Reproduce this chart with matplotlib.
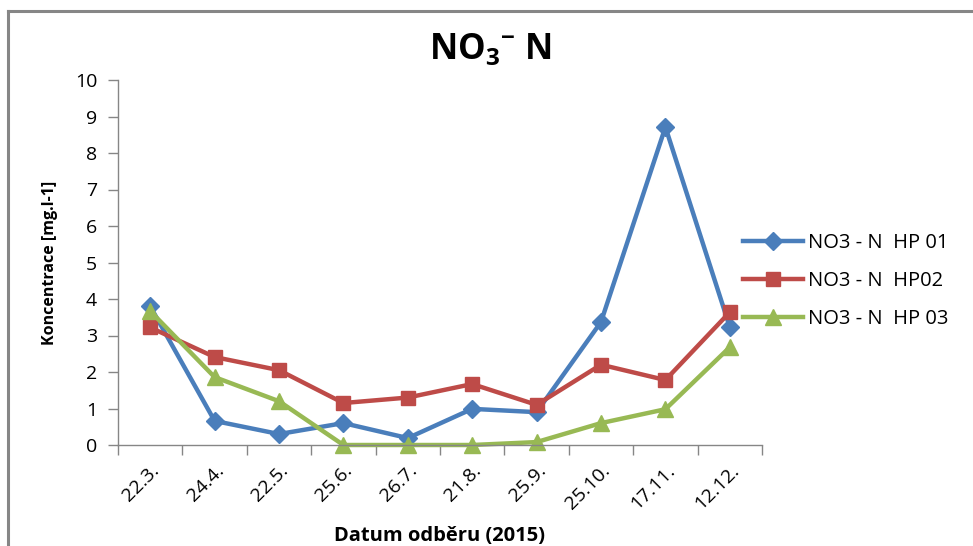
import matplotlib.pyplot as plt
from matplotlib.lines import Line2D
import numpy as np

plt.rcParams["font.family"] = ["Open Sans", "DejaVu Sans"]
plt.rcParams["mathtext.fontset"] = "custom"
plt.rcParams["mathtext.rm"] = "Open Sans"
plt.rcParams["mathtext.bf"] = "Open Sans:bold"

dates = ["22.3.", "24.4.", "22.5.", "25.6.", "26.7.", "21.8.", "25.9.", "25.10.", "17.11.", "12.12."]
hp01 = [3.80, 0.66, 0.30, 0.60, 0.19, 0.99, 0.90, 3.37, 8.71, 3.23]
hp02 = [3.22, 2.41, 2.05, 1.15, 1.30, 1.67, 1.10, 2.20, 1.78, 3.64]
hp03 = [3.67, 1.86, 1.20, 0.00, 0.00, 0.00, 0.08, 0.60, 0.98, 2.68]
series_names = ["NO3 - N  HP 01", "NO3 - N  HP02", "NO3 - N  HP 03"]

AXIS_GRAY = "#868686"
COLORS = ["#4A7EBB", "#BE4B48", "#98B954"]
MARKERS = ["D", "s", "^"]
MSIZES = [9, 10.5, 11]

fig = plt.figure(figsize=(9.73, 5.46), dpi=100)
ax = fig.add_axes([118 / 973, 101 / 546, 644 / 973, 365 / 546])

# chart frame (only top and left edges are visible)
fig.add_artist(Line2D([8 / 973, 8 / 973], [0, 1 - 11 / 546], transform=fig.transFigure,
                      color=AXIS_GRAY, lw=2.2))
fig.add_artist(Line2D([8 / 973, 1], [1 - 11 / 546, 1 - 11 / 546], transform=fig.transFigure,
                      color=AXIS_GRAY, lw=2.2))

x = np.arange(len(dates))
for vals, name, c, m, ms in zip([hp01, hp02, hp03], series_names, COLORS, MARKERS, MSIZES):
    ax.plot(x, vals, color=c, lw=3.2, marker=m, markersize=ms, markeredgecolor=c,
            label=name, clip_on=False)

ax.set_xlim(-0.5, len(dates) - 0.5)
ax.set_ylim(0, 10)
ax.set_yticks(range(0, 11))
ax.tick_params(axis="y", length=7, width=1, color=AXIS_GRAY, labelsize=14, pad=8)

# category ticks sit between the dates, labels at the centres
ax.set_xticks(np.arange(-0.5, len(dates)), minor=False)
ax.set_xticklabels([])
ax.set_xticks(x, minor=True)
ax.set_xticklabels(dates, minor=True, rotation=45, ha="right", rotation_mode="anchor",
                   fontsize=14)
ax.tick_params(axis="x", which="major", length=7, width=1, color=AXIS_GRAY)
ax.tick_params(axis="x", which="minor", length=0, pad=12)

for side in ["top", "right"]:
    ax.spines[side].set_visible(False)
for side in ["left", "bottom"]:
    ax.spines[side].set_color(AXIS_GRAY)
    ax.spines[side].set_linewidth(1)

ax.set_ylabel("Koncentrace [mg.l-1]", fontsize=11.5, fontweight="bold", labelpad=12)
fig.text(440 / 973, 1 - 536 / 546, "Datum odběru (2015)", fontsize=14.5, fontweight="bold",
         ha="center", va="center")
fig.text(490 / 973, 1 - 50 / 546, r"NO$_\mathbf{3}$$^{\mathbf{-}}$ N", fontsize=25,
         fontweight="bold", ha="center", va="center")

ax.legend(loc="center left", bbox_to_anchor=(735 / 973, 1 - 281 / 546),
          bbox_transform=fig.transFigure, frameon=False, fontsize=14.5,
          handlelength=3.0, handletextpad=0.2, labelspacing=0.9, borderaxespad=0)

fig.savefig("out.png", dpi=100)
